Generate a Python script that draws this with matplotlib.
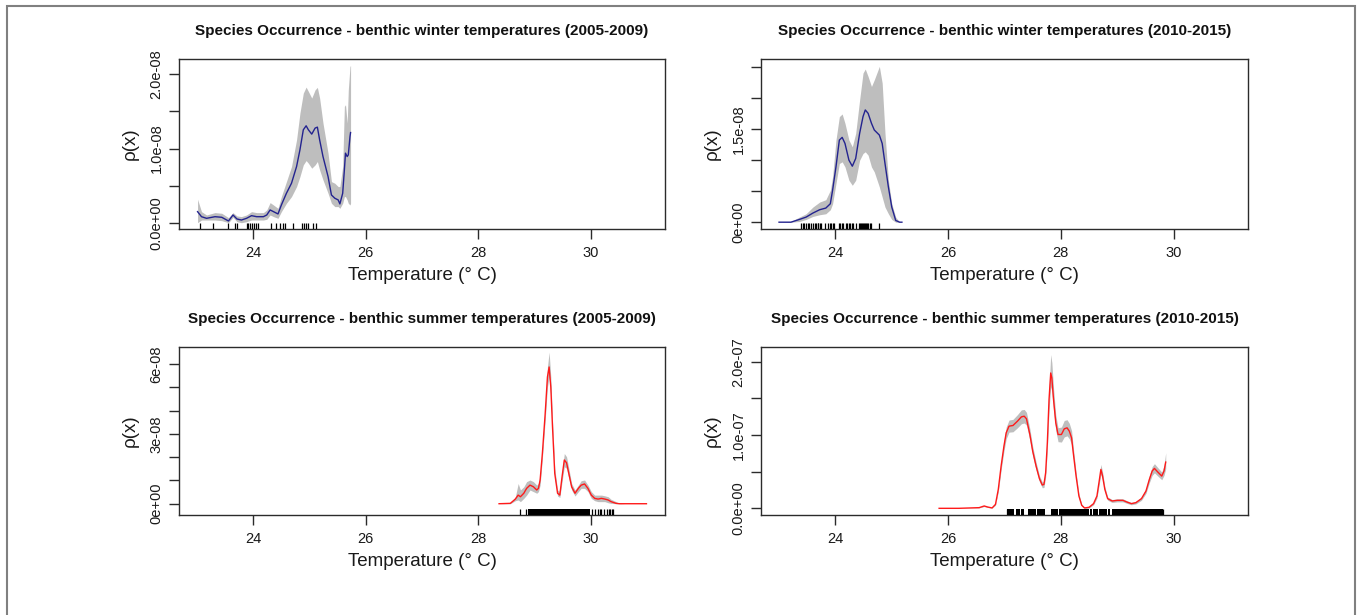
import numpy as np
import matplotlib
matplotlib.use("Agg")
import matplotlib.pyplot as plt
from matplotlib.patches import Rectangle

plt.rcParams["font.family"] = ["Liberation Sans", "DejaVu Sans"]

# ==============================
# 1. DATA (density in units of 1e-8 for the top row, 1e-8 / 1e-7 below)
# ==============================

# winter 2005-2009
w05_t = [23.01, 23.08, 23.17, 23.32, 23.44, 23.56, 23.64, 23.71, 23.79, 23.88,
         23.97, 24.06, 24.18, 24.24, 24.30, 24.36, 24.44, 24.50, 24.59, 24.68,
         24.77, 24.83, 24.89, 24.94, 24.98, 25.04, 25.10, 25.14, 25.18, 25.24,
         25.33, 25.39, 25.45, 25.51, 25.54, 25.59, 25.62, 25.64, 25.67, 25.69,
         25.72, 25.73]
w05_mid = [0.149, 0.081, 0.059, 0.081, 0.073, 0.023, 0.104, 0.050, 0.036, 0.059,
           0.095, 0.081, 0.081, 0.104, 0.172, 0.149, 0.118, 0.239, 0.397, 0.532,
           0.757, 0.982, 1.253, 1.307, 1.253, 1.195, 1.276, 1.289, 1.118, 0.892,
           0.622, 0.374, 0.330, 0.307, 0.253, 0.397, 0.712, 0.938, 0.892, 0.915,
           1.162, 1.216]
w05_hi = [0.316, 0.149, 0.104, 0.136, 0.127, 0.068, 0.136, 0.091, 0.082, 0.104,
          0.149, 0.136, 0.136, 0.172, 0.271, 0.239, 0.194, 0.352, 0.554, 0.757,
          1.118, 1.478, 1.748, 1.829, 1.771, 1.681, 1.793, 1.825, 1.681, 1.343,
          0.937, 0.554, 0.532, 0.487, 0.487, 0.757, 1.568, 1.591, 1.343, 1.793,
          2.109, 2.118]
w05_lo = [0.0, 0.036, 0.036, 0.036, 0.027, 0.0, 0.073, 0.014, 0.0, 0.014,
          0.036, 0.036, 0.036, 0.046, 0.104, 0.082, 0.059, 0.149, 0.262, 0.352,
          0.487, 0.622, 0.780, 0.838, 0.802, 0.735, 0.780, 0.825, 0.712, 0.577,
          0.397, 0.262, 0.217, 0.217, 0.194, 0.262, 0.352, 0.352, 0.307, 0.262,
          0.239, 0.262]
w05_rug = [23.05, 23.28, 23.55, 23.67, 23.71, 23.88, 23.91, 23.94, 23.98, 24.01,
           24.05, 24.08, 24.31, 24.40, 24.47, 24.52, 24.56, 24.71, 24.86, 24.90,
           24.94, 24.97, 25.07, 25.11]

# winter 2010-2015
w10_t = [23.00, 23.21, 23.36, 23.48, 23.60, 23.72, 23.83, 23.91, 23.95, 24.01,
         24.07, 24.12, 24.17, 24.24, 24.30, 24.36, 24.43, 24.49, 24.53, 24.58,
         24.64, 24.69, 24.78, 24.83, 24.88, 24.94, 25.00, 25.07, 25.14, 25.18]
w10_mid = [0.0, 0.0, 0.044, 0.082, 0.147, 0.201, 0.228, 0.298, 0.515, 0.893,
           1.326, 1.370, 1.272, 1.002, 0.904, 1.029, 1.435, 1.705, 1.813, 1.759,
           1.597, 1.489, 1.407, 1.272, 0.948, 0.569, 0.244, 0.028, 0.0, 0.0]
w10_hi = [0.0, 0.011, 0.082, 0.136, 0.244, 0.325, 0.363, 0.515, 0.731, 1.326,
          1.705, 1.748, 1.597, 1.326, 1.218, 1.435, 1.976, 2.409, 2.474, 2.354,
          2.192, 2.300, 2.517, 2.246, 1.435, 0.677, 0.298, 0.082, 0.0, 0.0]
w10_lo = [0.0, 0.0, 0.011, 0.044, 0.093, 0.120, 0.136, 0.201, 0.298, 0.623,
          0.948, 0.975, 0.893, 0.677, 0.596, 0.677, 1.002, 1.110, 1.137, 1.083,
          0.893, 0.812, 0.569, 0.406, 0.244, 0.136, 0.044, 0.0, 0.0, 0.0]
w10_rug = [23.39, 23.42, 23.45, 23.48, 23.51, 23.54, 23.57, 23.60, 23.63, 23.66,
           23.69, 23.70, 23.73, 23.75, 23.81, 23.87, 23.90, 23.93, 23.95, 23.98,
           24.06, 24.08, 24.12, 24.14, 24.18, 24.20, 24.24, 24.26, 24.30, 24.32,
           24.37, 24.42, 24.44, 24.46, 24.48, 24.49, 24.51, 24.53, 24.54, 24.56,
           24.58, 24.61, 24.64, 24.77]

# summer 2005-2009
s05_t = [28.37, 28.57, 28.66, 28.71, 28.75, 28.81, 28.86, 28.92, 28.98, 29.04,
         29.07, 29.10, 29.14, 29.19, 29.23, 29.26, 29.29, 29.32, 29.36, 29.41,
         29.45, 29.49, 29.53, 29.57, 29.61, 29.66, 29.72, 29.78, 29.83, 29.89,
         29.95, 30.01, 30.07, 30.13, 30.19, 30.25, 30.31, 30.36, 30.45, 30.51,
         30.60, 30.99]
s05_mid = [0.0, 0.016, 0.20, 0.37, 0.30, 0.45, 0.66, 0.80, 0.73, 0.59,
           0.66, 1.02, 2.16, 3.88, 5.45, 5.88, 5.02, 3.31, 1.30, 0.45,
           0.37, 1.16, 1.88, 1.76, 1.30, 0.73, 0.45, 0.66, 0.80, 0.85,
           0.66, 0.37, 0.23, 0.20, 0.23, 0.20, 0.16, 0.09, 0.016, 0.0,
           0.0, 0.0]
s05_hi = [0.0, 0.03, 0.30, 0.87, 0.59, 0.73, 0.95, 1.02, 0.95, 0.80,
          0.87, 1.23, 2.38, 4.16, 5.88, 6.52, 5.45, 3.59, 1.52, 0.59,
          0.52, 1.37, 2.16, 2.02, 1.52, 0.87, 0.59, 0.80, 0.99, 1.02,
          0.80, 0.52, 0.37, 0.37, 0.37, 0.34, 0.30, 0.19, 0.09, 0.016,
          0.0, 0.0]
s05_lo = [0.0, 0.0, 0.13, 0.16, 0.09, 0.23, 0.37, 0.59, 0.52, 0.45,
          0.52, 0.80, 1.95, 3.59, 5.02, 5.45, 4.59, 3.02, 1.09, 0.33,
          0.27, 0.95, 1.59, 1.52, 1.09, 0.59, 0.33, 0.52, 0.66, 0.66,
          0.52, 0.23, 0.13, 0.09, 0.09, 0.09, 0.04, 0.016, 0.0, 0.0,
          0.0, 0.0]
s05_rug = [28.75, 28.85, 30.02, 30.07, 30.12, 30.16, 30.19, 30.23, 30.28,
           30.32, 30.35, 30.38, 30.40]
s05_rug_spans = [(28.88, 29.98)]

# summer 2010-2015 (units of 1e-7)
s10_t = [25.84, 26.19, 26.55, 26.64, 26.70, 26.78, 26.84, 26.89, 26.94, 26.99,
         27.03, 27.08, 27.15, 27.23, 27.30, 27.35, 27.39, 27.45, 27.50, 27.56,
         27.62, 27.67, 27.70, 27.73, 27.76, 27.79, 27.82, 27.84, 27.87, 27.91,
         27.95, 28.01, 28.06, 28.11, 28.15, 28.19, 28.22, 28.27, 28.32, 28.37,
         28.42, 28.50, 28.58, 28.64, 28.68, 28.71, 28.74, 28.78, 28.83, 28.91,
         29.00, 29.10, 29.17, 29.25, 29.33, 29.43, 29.51, 29.57, 29.62, 29.66,
         29.72, 29.79, 29.83, 29.86]
s10_mid = [0.0, 0.0, 0.009, 0.032, 0.018, 0.005, 0.054, 0.259, 0.577, 0.849,
           1.031, 1.122, 1.131, 1.190, 1.249, 1.258, 1.222, 1.008, 0.781, 0.577,
           0.404, 0.318, 0.327, 0.486, 0.895, 1.485, 1.848, 1.780, 1.485, 1.167,
           1.008, 1.008, 1.085, 1.099, 1.054, 0.963, 0.758, 0.440, 0.168, 0.041,
           0.005, 0.014, 0.064, 0.168, 0.372, 0.531, 0.440, 0.259, 0.132, 0.100,
           0.109, 0.109, 0.086, 0.064, 0.077, 0.132, 0.236, 0.395, 0.509, 0.545,
           0.495, 0.440, 0.509, 0.631]
s10_hi = [0.0, 0.0, 0.012, 0.040, 0.024, 0.008, 0.065, 0.290, 0.630, 0.920,
          1.110, 1.205, 1.215, 1.280, 1.345, 1.350, 1.310, 1.085, 0.845, 0.630,
          0.445, 0.360, 0.370, 0.545, 0.990, 1.640, 2.100, 1.990, 1.640, 1.270,
          1.100, 1.110, 1.200, 1.210, 1.160, 1.060, 0.835, 0.490, 0.200, 0.055,
          0.012, 0.025, 0.080, 0.195, 0.420, 0.600, 0.495, 0.295, 0.155, 0.120,
          0.130, 0.130, 0.105, 0.080, 0.095, 0.155, 0.270, 0.445, 0.570, 0.610,
          0.555, 0.495, 0.580, 0.760]
s10_lo = [0.0, 0.0, 0.006, 0.024, 0.012, 0.002, 0.043, 0.228, 0.524, 0.780,
          0.950, 1.040, 1.045, 1.100, 1.155, 1.165, 1.135, 0.930, 0.715, 0.525,
          0.365, 0.280, 0.285, 0.430, 0.800, 1.330, 1.660, 1.600, 1.340, 1.060,
          0.910, 0.905, 0.975, 0.990, 0.950, 0.870, 0.680, 0.390, 0.140, 0.028,
          0.0, 0.005, 0.048, 0.140, 0.325, 0.465, 0.385, 0.225, 0.110, 0.080,
          0.088, 0.088, 0.068, 0.048, 0.060, 0.110, 0.205, 0.350, 0.450, 0.485,
          0.440, 0.390, 0.450, 0.540]
s10_rug = [27.05, 29.82]
s10_rug_spans = [(27.05, 27.17), (27.20, 27.27), (27.29, 27.35), (27.42, 27.55),
                 (27.57, 27.71), (27.82, 27.95), (27.96, 28.50), (28.51, 28.55),
                 (28.57, 28.65), (28.67, 28.82), (28.84, 28.88), (28.91, 29.82)]

titles = [
    "Species Occurrence - benthic winter temperatures (2005-2009)",
    "Species Occurrence - benthic winter temperatures (2010-2015)",
    "Species Occurrence - benthic summer temperatures (2005-2009)",
    "Species Occurrence - benthic summer temperatures (2010-2015)",
]

x_ticks = [24, 26, 28, 30]
y_ticks = [
    [0.0, 0.5e-8, 1.0e-8, 1.5e-8, 2.0e-8],
    [0.0, 0.5e-8, 1.0e-8, 1.5e-8, 2.0e-8, 2.5e-8],
    [0.0, 1e-8, 2e-8, 3e-8, 4e-8, 5e-8, 6e-8],
    [0.0, 0.5e-7, 1.0e-7, 1.5e-7, 2.0e-7],
]
y_tick_labels = [
    ["0.0e+00", "", "1.0e-08", "", "2.0e-08"],
    ["0e+00", "", "", "1.5e-08", "", ""],
    ["0e+00", "", "", "3e-08", "", "", "6e-08"],
    ["0.0e+00", "", "1.0e-07", "", "2.0e-07"],
]
y_limits = [(-0.085e-8, 2.208e-8), (-0.11e-8, 2.636e-8),
            (-0.485e-8, 6.74e-8), (-0.0913e-7, 2.203e-7)]

# ==============================
# 2. FIGURE LAYOUT (pixel boxes)
# ==============================
W, H = 1357, 615
fig = plt.figure(figsize=(W / 100, H / 100), dpi=100)

boxes = [(179, 665, 59, 229), (761, 1248, 59, 229),
         (179, 665, 347, 515), (761, 1248, 347, 515)]

panels = [
    (w05_t, w05_mid, w05_lo, w05_hi, 1e-8, "#23238f", w05_rug, []),
    (w10_t, w10_mid, w10_lo, w10_hi, 1e-8, "#23238f", w10_rug, []),
    (s05_t, s05_mid, s05_lo, s05_hi, 1e-8, "#ff1a1a", s05_rug, s05_rug_spans),
    (s10_t, s10_mid, s10_lo, s10_hi, 1e-7, "#ff1a1a", s10_rug, s10_rug_spans),
]

box_col = "#2b2b2b"

for i, (t, mid, lo, hi, unit, col, rug, spans) in enumerate(panels):
    x0, x1, y0, y1 = boxes[i]
    w_px, h_px = x1 - x0, y1 - y0
    ax = fig.add_axes([x0 / W, 1 - y1 / H, w_px / W, h_px / H])

    t = np.array(t)
    ax.fill_between(t, np.array(lo) * unit, np.array(hi) * unit,
                    color="#bebebe", lw=0, zorder=1)
    ax.plot(t, np.array(mid) * unit, color=col, lw=1.0, zorder=2)

    # rug of observations along the bottom edge
    xt = ax.get_xaxis_transform()
    ax.vlines(rug, 0, 0.034, transform=xt, color="black", lw=0.9, zorder=3)
    for a, b in spans:
        ax.axvspan(a, b, ymin=0, ymax=0.034, color="black", lw=0, zorder=3)

    ax.set_xlim(22.68, 31.32)
    ax.set_ylim(*y_limits[i])
    ax.set_xticks(x_ticks)
    ax.set_xticklabels([str(v) for v in x_ticks])
    ax.set_yticks(y_ticks[i])
    ax.set_yticklabels(y_tick_labels[i], rotation=90, va="center")

    ax.tick_params(direction="out", length=7, width=1.0, color=box_col,
                   labelsize=10.5, labelcolor="#1a1a1a")
    ax.tick_params(axis="x", pad=5)
    ax.tick_params(axis="y", pad=4)
    for s in ax.spines.values():
        s.set_color(box_col)
        s.set_linewidth(1.0)

    ax.text(0.5, 1 + 28 / h_px, titles[i], transform=ax.transAxes,
            ha="center", va="center", fontsize=11, fontweight="bold",
            color="#111111")
    ax.text(0.5, -47 / h_px, "Temperature (° C)", transform=ax.transAxes,
            ha="center", va="center", fontsize=13.5, color="#1a1a1a")
    ax.text(-49 / w_px, 0.5, "ρ(x)", transform=ax.transAxes, rotation=90,
            ha="center", va="center", fontsize=13.5, color="#1a1a1a")

# outer frame
fig.patches.append(Rectangle((7 / W, -0.05), (1355 - 7) / W, 1.05 - 6 / H,
                             transform=fig.transFigure, fill=False,
                             edgecolor="#808080", lw=1.5))

fig.savefig("out.png", dpi=100)
plt.close(fig)
